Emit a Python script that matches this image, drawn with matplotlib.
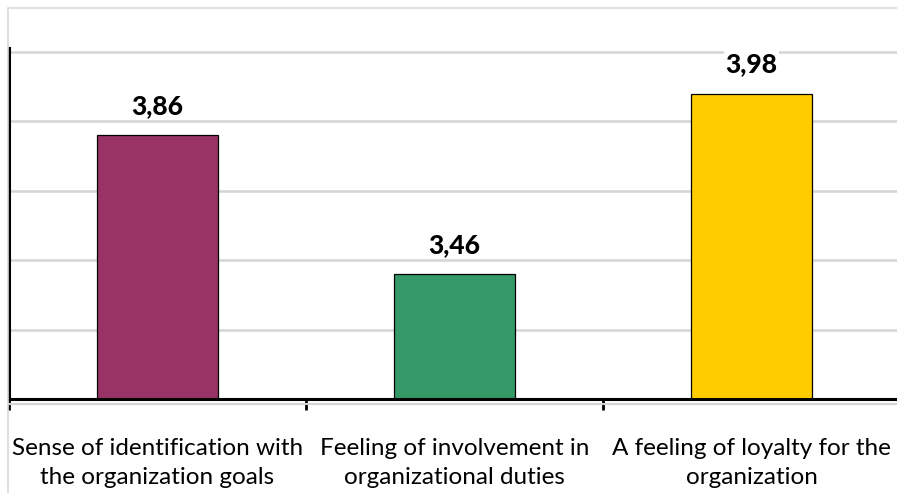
import matplotlib
matplotlib.use("Agg")
from matplotlib import pyplot as plt
from matplotlib.lines import Line2D
from matplotlib.patches import Rectangle

plt.rcParams['font.family'] = ['Lato', 'DejaVu Sans']

categories = ["Sense of identification with\nthe organization goals",
              "Feeling of involvement in\norganizational duties",
              "A feeling of loyalty for the\norganization"]
values = [3.86, 3.46, 3.98]
value_labels = ["3,86", "3,46", "3,98"]
colors = ["#993366", "#339966", "#FFCC00"]

W, H = 897, 493
fig = plt.figure(figsize=(W / 100, H / 100), dpi=100)

# chart frame (cut off at right/bottom like the original)
fig.patches.append(Rectangle((8 / W, -0.1), 1.2, 1 - 8 / H + 0.1, transform=fig.transFigure,
                             fill=False, edgecolor="#d9d9d9", linewidth=1.2))

ax = fig.add_axes([9 / W, 94 / H, 891 / W, 351 / H])
x = list(range(len(values)))
ax.bar(x, [v - 3.1 for v in values], bottom=3.1, width=0.405, color=colors,
       edgecolor="black", linewidth=0.9, zorder=3)

for xi, v, lab in zip(x, values, value_labels):
    ax.text(xi, v + 0.05, lab, ha="center", va="bottom", fontsize=19, fontweight="black",
            bbox=dict(facecolor="white", edgecolor="none", pad=1), zorder=4)

ax.set_xlim(-0.5, 2.5)
ax.set_ylim(3.1, 4.1115)
ax.set_yticks([3.3, 3.5, 3.7, 3.9, 4.1])
ax.yaxis.grid(True, color="#d4d4d4", linewidth=1.8, zorder=0)
ax.tick_params(axis="y", length=0, labelleft=False)

ax.set_xticks(x)
ax.set_xticklabels(categories, fontsize=17.5, linespacing=1.45)
ax.set_xticks([-0.5, 0.5, 1.5, 2.5], minor=True)
ax.tick_params(axis="x", which="major", length=0, pad=28)
ax.tick_params(axis="x", which="minor", length=8, width=2, direction="out", color="black")

for s in ["top", "right"]:
    ax.spines[s].set_visible(False)
ax.spines["left"].set_linewidth(2.2)
ax.spines["bottom"].set_linewidth(2.2)
ax.spines["bottom"].set_zorder(5)

# light floor line under the axis
fig.lines.append(Line2D([9 / W, 1], [1 - 404 / H, 1 - 404 / H], transform=fig.transFigure,
                        color="#d4d4d4", linewidth=1.5))

fig.savefig("out.png", dpi=100, facecolor="white")
